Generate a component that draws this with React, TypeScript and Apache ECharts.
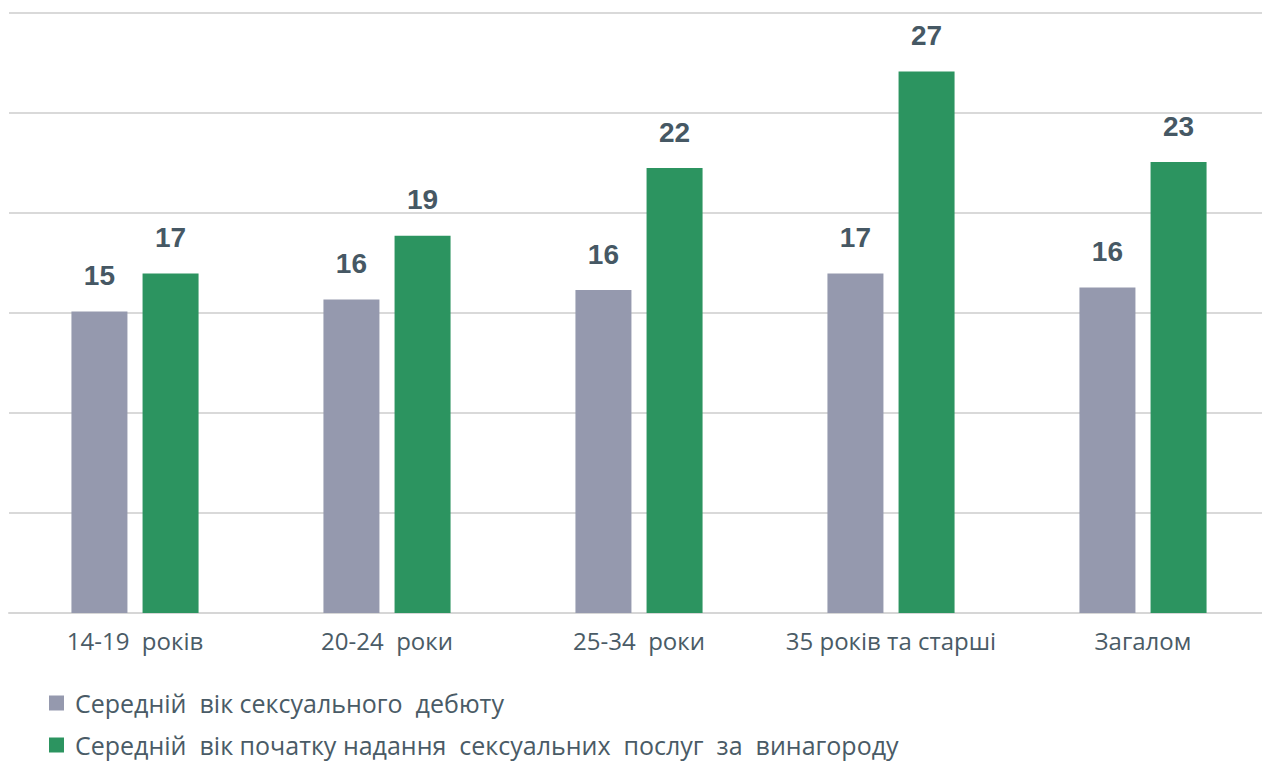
import React, { useEffect, useRef } from "react";
import * as echarts from "echarts";

const categories = ["14-19  років", "20-24  роки", "25-34  роки", "35 років та старші", "Загалом"];
const seriesNames = [
  "Середній  вік сексуального  дебюту",
  "Середній  вік початку надання  сексуальних  послуг  за  винагороду",
];
const debutAge = [15.07, 15.68, 16.15, 16.97, 16.28];
const serviceAge = [16.97, 18.86, 22.25, 27.07, 22.55];
const yMin = 0;
const yMax = 30;
const yInterval = 5;

export default function App() {
  const ref = useRef<HTMLDivElement>(null);
  useEffect(() => {
    if (!ref.current) return;
    const chart = echarts.init(ref.current, undefined, { renderer: "svg" });
    const labelStyle = {
      show: true,
      position: "top" as const,
      distance: 22,
      fontFamily: "Liberation Sans, Arial, sans-serif",
      fontWeight: "bold" as const,
      fontSize: 28,
      color: "#465864",
      formatter: (p: any) => String(Math.round(p.value)),
    };
    chart.setOption({
      animation: false,
      backgroundColor: "#ffffff",
      grid: { left: 9, right: 0, top: 13, height: 600, width: 1260, containLabel: false },
      legend: {
        orient: "vertical",
        left: 44,
        top: 684,
        height: 80,
        itemWidth: 15,
        itemHeight: 15,
        itemGap: 14,
        icon: "rect",
        textStyle: {
          fontFamily: "Open Sans, sans-serif",
          fontSize: 25,
          lineHeight: 28,
          color: "#4a5b66",
          padding: [0, 0, 0, 6],
        },
        data: seriesNames,
      },
      xAxis: {
        type: "category",
        data: categories,
        axisLine: { show: true, lineStyle: { color: "#d6d6d6", width: 2 } },
        axisTick: { show: false },
        axisLabel: {
          interval: 0,
          margin: 15,
          fontFamily: "Open Sans, sans-serif",
          fontSize: 24,
          color: "#4a5b66",
        },
      },
      yAxis: {
        type: "value",
        min: yMin,
        max: yMax,
        interval: yInterval,
        axisLabel: { show: false },
        axisLine: { show: false },
        axisTick: { show: false },
        splitLine: { lineStyle: { color: "#d9d9d9", width: 2 } },
      },
      series: [
        {
          name: seriesNames[0],
          type: "bar",
          data: debutAge,
          barWidth: 56,
          barGap: "27%",
          itemStyle: { color: "#9599ae" },
          label: labelStyle,
        },
        {
          name: seriesNames[1],
          type: "bar",
          data: serviceAge,
          barWidth: 56,
          itemStyle: { color: "#2c9460" },
          label: labelStyle,
        },
      ],
    });
    return () => chart.dispose();
  }, []);
  return (
    <div
      ref={ref}
      style={{ position: "fixed", left: 0, top: 0, width: 1270, height: 762, background: "#fff" }}
    />
  );
}
